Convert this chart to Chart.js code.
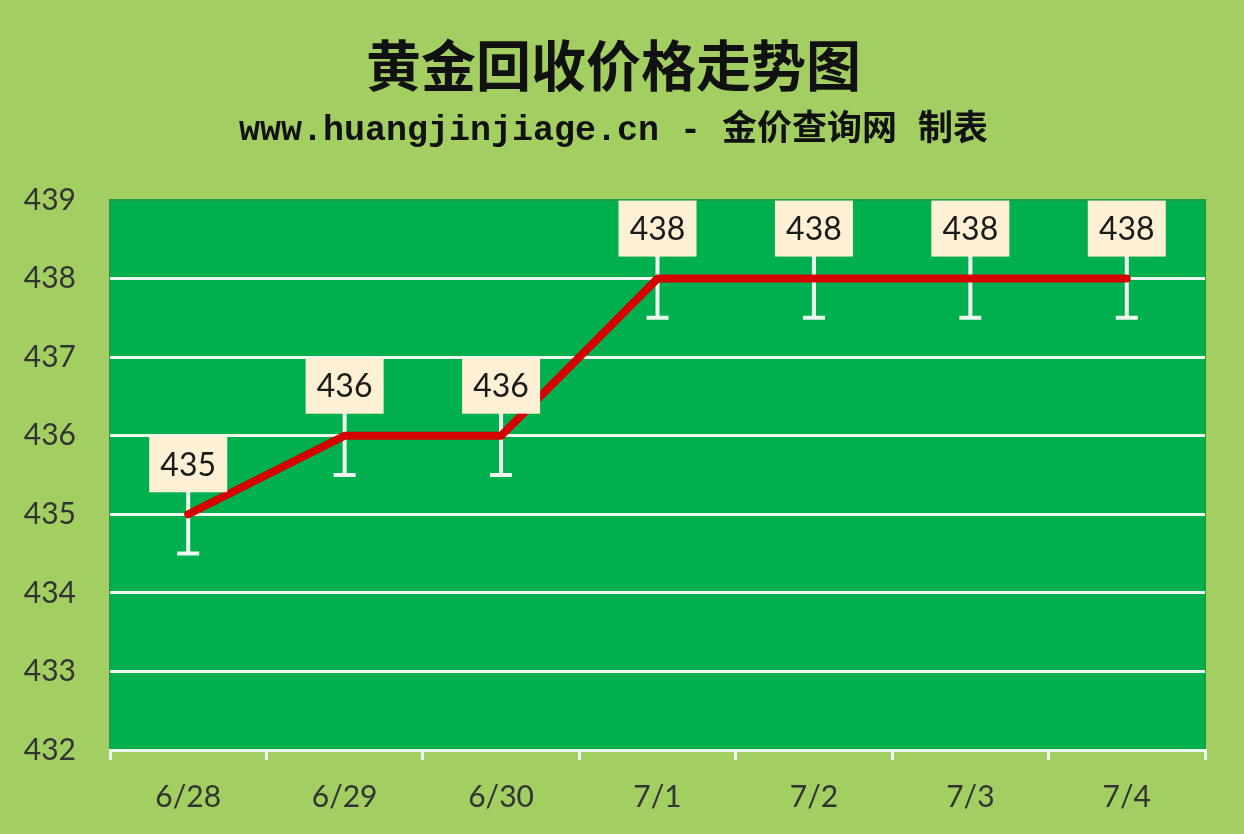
<!DOCTYPE html>
<html>
<head>
<meta charset="utf-8">
<script src="https://cdn.jsdelivr.net/npm/chart.js@4/dist/chart.umd.min.js"></script>
<style>
  html, body { margin: 0; padding: 0; background: #a3cf62; }
  #wrap { width: 1244px; height: 834px; }
</style>
</head>
<body>
<div id="wrap"><canvas id="canvas" width="1244" height="834"></canvas></div>
<script>
//****DATA****//

var dates = ['6/28', '6/29', '6/30', '7/1', '7/2', '7/3', '7/4'];
var prices = [435, 436, 436, 438, 438, 438, 438];
var errorBars = [0.5, 0.5, 0.5, 0.5, 0.5, 0.5, 0.5];
var yMin = 432;
var yMax = 439;

var titleText = '黄金回收价格走势图';
var subtitleText = 'www.huangjinjiage.cn - 金价查询网 制表';

//****PLUGINS****//

// green plot background
var plotBg = {
  id: 'plotBg',
  beforeDraw: function (chart) {
    var a = chart.chartArea;
    var ctx = chart.ctx;
    ctx.save();
    ctx.fillStyle = '#00b04f';
    ctx.fillRect(a.left, a.top, a.right - a.left, a.bottom - a.top);
    ctx.strokeStyle = '#1f9a45';
    ctx.lineWidth = 2;
    ctx.strokeRect(a.left, a.top, a.right - a.left, a.bottom - a.top);
    ctx.restore();
  }
};

// white error bars under the line
var errBars = {
  id: 'errBars',
  beforeDatasetsDraw: function (chart) {
    var ctx = chart.ctx;
    var x = chart.scales.x;
    var y = chart.scales.y;
    ctx.save();
    ctx.strokeStyle = '#eef8ee';
    ctx.lineWidth = 4;
    for (var i = 0; i < prices.length; i++) {
      var px = x.getPixelForValue(i);
      var top = y.getPixelForValue(prices[i] + errorBars[i]);
      var bot = y.getPixelForValue(prices[i] - errorBars[i]);
      ctx.beginPath();
      ctx.moveTo(px, top);
      ctx.lineTo(px, bot);
      ctx.moveTo(px - 11, bot);
      ctx.lineTo(px + 11, bot);
      ctx.moveTo(px - 11, top);
      ctx.lineTo(px + 11, top);
      ctx.stroke();
    }
    ctx.restore();
  }
};

// cream value boxes above each point
var valueBoxes = {
  id: 'valueBoxes',
  afterDatasetsDraw: function (chart) {
    var ctx = chart.ctx;
    var x = chart.scales.x;
    var y = chart.scales.y;
    var w = 78, h = 56, gap = 22;
    ctx.save();
    ctx.font = '32px Lato, "Open Sans", sans-serif';
    ctx.textAlign = 'center';
    ctx.textBaseline = 'middle';
    for (var i = 0; i < prices.length; i++) {
      var px = x.getPixelForValue(i);
      var py = y.getPixelForValue(prices[i]);
      var bottom = py - gap;
      ctx.fillStyle = '#fdf0d4';
      ctx.fillRect(px - w / 2, bottom - h, w, h);
      ctx.fillStyle = '#1a1a1a';
      ctx.fillText(String(prices[i]), px, bottom - h / 2 + 1);
    }
    ctx.restore();
  }
};

//****CHART****//

var ctx = document.getElementById('canvas').getContext('2d');

var chart = new Chart(ctx, {
  type: 'line',
  data: {
    labels: dates,
    datasets: [{
      label: 'price',
      data: prices,
      borderColor: '#d60000',
      borderWidth: 8,
      borderJoinStyle: 'round',
      borderCapStyle: 'round',
      pointRadius: 0,
      tension: 0
    }]
  },
  options: {
    responsive: false,
    animation: false,
    layout: { padding: { left: 22, right: 39, top: 0, bottom: 0 } },
    plugins: {
      legend: { display: false },
      tooltip: { enabled: false },
      title: {
        display: true,
        text: titleText,
        color: '#111',
        font: { family: '"Noto Sans CJK SC", sans-serif', size: 55, weight: 'bold', lineHeight: 1.2 },
        padding: { top: 32, bottom: 12 }
      },
      subtitle: {
        display: true,
        text: subtitleText,
        color: '#111',
        font: { family: '"Liberation Mono", "Noto Sans CJK SC", monospace', size: 35, weight: 'bold', lineHeight: 1.2 },
        padding: { top: 0, bottom: 48 }
      }
    },
    scales: {
      x: {
        offset: true,
        grid: {
          offset: true,
          drawOnChartArea: false,
          drawTicks: true,
          tickLength: 10,
          color: '#eef8ee',
          lineWidth: 3
        },
        border: { color: '#eef8ee', width: 3 },
        ticks: {
          color: '#333',
          padding: 19,
          font: { family: 'Lato, "Open Sans", sans-serif', size: 30 }
        },
        afterFit: function (scale) { scale.height = 84; }
      },
      y: {
        min: yMin,
        max: yMax,
        grid: {
          drawTicks: false,
          lineWidth: 3,
          color: function (c) {
            return c.tick && c.tick.value === yMax ? 'rgba(0,0,0,0)' : '#eef8ee';
          }
        },
        border: { display: false },
        ticks: {
          stepSize: 1,
          color: '#333',
          padding: 34,
          font: { family: 'Lato, "Open Sans", sans-serif', size: 30 }
        },
        afterFit: function (scale) { scale.width = 88; }
      }
    }
  },
  plugins: [plotBg, errBars, valueBoxes]
});
</script>
</body>
</html>
